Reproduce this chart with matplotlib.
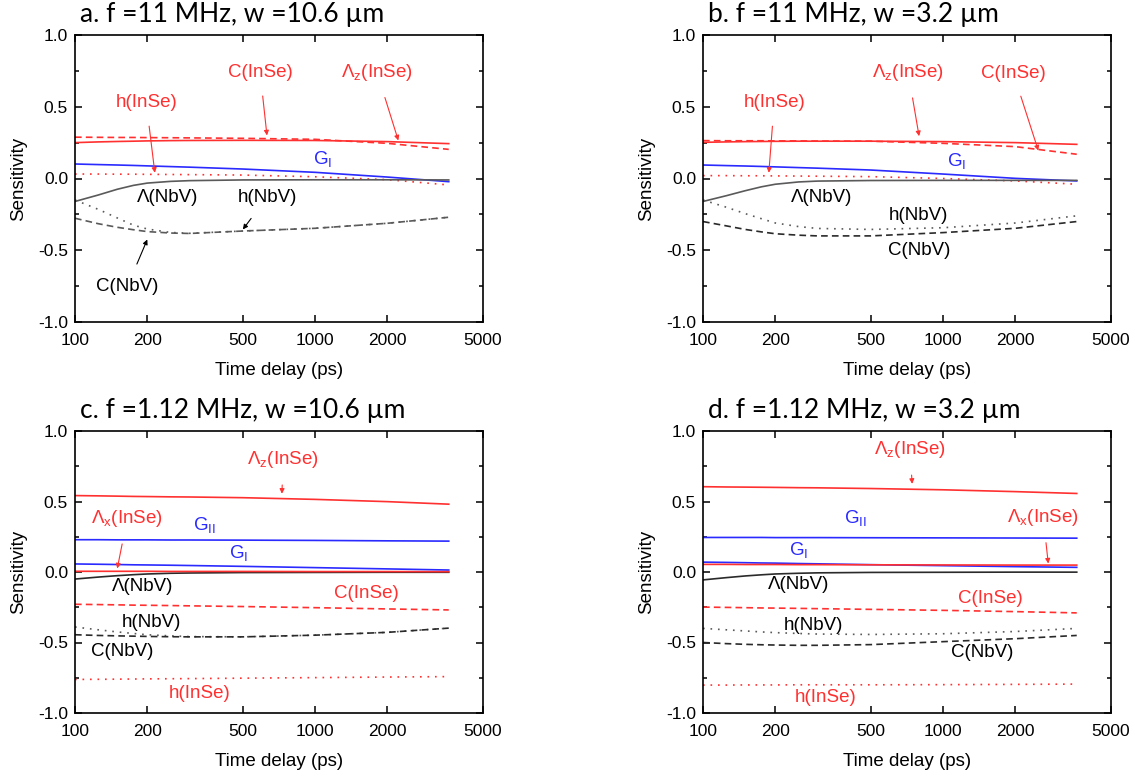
import numpy as np
import matplotlib
matplotlib.use('Agg')
import matplotlib.pyplot as plt
from matplotlib.ticker import FixedLocator, FixedFormatter, MultipleLocator, NullLocator, FormatStrFormatter

plt.rcParams['font.family'] = ['Liberation Sans', 'DejaVu Sans']
plt.rcParams['mathtext.fontset'] = 'custom'
plt.rcParams['mathtext.rm'] = 'Liberation Sans'

# time delay (ps) sample points shared by all curves
t = [100, 125, 150, 175, 200, 250, 300, 500, 1000, 2000, 3600]

# panel a: f = 11 MHz, w = 10.6 um
a_Lz_InSe = [0.25, 0.255, 0.258, 0.26, 0.262, 0.264, 0.265, 0.266, 0.265, 0.257, 0.243]
a_C_InSe = [0.288, 0.287, 0.286, 0.286, 0.285, 0.284, 0.283, 0.28, 0.273, 0.245, 0.203]
a_h_InSe = [0.031, 0.031, 0.03, 0.03, 0.029, 0.028, 0.027, 0.024, 0.012, -0.008, -0.045]
a_G_perp = [0.101, 0.097, 0.094, 0.091, 0.088, 0.083, 0.079, 0.066, 0.043, 0.01, -0.022]
a_L_NbV = [-0.16, -0.115, -0.075, -0.048, -0.032, -0.02, -0.015, -0.01, -0.009, -0.009, -0.01]
a_h_NbV = [-0.15, -0.215, -0.275, -0.325, -0.352, -0.376, -0.382, -0.366, -0.347, -0.312, -0.27]
a_C_NbV = [-0.277, -0.315, -0.34, -0.357, -0.37, -0.38, -0.383, -0.366, -0.347, -0.312, -0.27]

# panel b: f = 11 MHz, w = 3.2 um
b_Lz_InSe = [0.252, 0.255, 0.257, 0.258, 0.259, 0.26, 0.26, 0.26, 0.257, 0.25, 0.238]
b_C_InSe = [0.264, 0.263, 0.263, 0.263, 0.262, 0.262, 0.261, 0.26, 0.245, 0.222, 0.169]
b_h_InSe = [0.02, 0.02, 0.019, 0.019, 0.018, 0.017, 0.016, 0.013, 0.0, -0.017, -0.04]
b_G_perp = [0.094, 0.09, 0.087, 0.084, 0.081, 0.076, 0.072, 0.059, 0.031, 0.001, -0.017]
b_L_NbV = [-0.16, -0.12, -0.085, -0.058, -0.04, -0.024, -0.018, -0.014, -0.013, -0.013, -0.013]
b_h_NbV = [-0.15, -0.2, -0.245, -0.28, -0.31, -0.335, -0.348, -0.355, -0.343, -0.31, -0.26]
b_C_NbV = [-0.30, -0.33, -0.355, -0.372, -0.385, -0.395, -0.40, -0.40, -0.377, -0.347, -0.30]

# panel c: f = 1.12 MHz, w = 10.6 um
c_Lz_InSe = [0.542, 0.54, 0.538, 0.536, 0.535, 0.533, 0.532, 0.527, 0.515, 0.499, 0.481]
c_G_par = [0.229, 0.229, 0.228, 0.228, 0.228, 0.227, 0.227, 0.226, 0.224, 0.221, 0.219]
c_G_perp = [0.057, 0.055, 0.053, 0.051, 0.05, 0.048, 0.046, 0.04, 0.031, 0.022, 0.014]
c_Lx_InSe = [0.005, 0.005, 0.005, 0.005, 0.005, 0.004, 0.004, 0.004, 0.003, 0.003, 0.002]
c_L_NbV = [-0.05, -0.036, -0.026, -0.019, -0.014, -0.009, -0.007, -0.004, -0.003, -0.002, -0.002]
c_C_InSe = [-0.229, -0.231, -0.233, -0.235, -0.236, -0.238, -0.24, -0.245, -0.253, -0.262, -0.269]
c_h_NbV = [-0.39, -0.41, -0.425, -0.436, -0.445, -0.453, -0.458, -0.46, -0.448, -0.428, -0.398]
c_C_NbV = [-0.445, -0.45, -0.453, -0.455, -0.457, -0.459, -0.46, -0.46, -0.448, -0.428, -0.398]
c_h_InSe = [-0.762, -0.761, -0.76, -0.759, -0.758, -0.757, -0.756, -0.753, -0.749, -0.745, -0.742]

# panel d: f = 1.12 MHz, w = 3.2 um
d_Lz_InSe = [0.605, 0.603, 0.602, 0.601, 0.6, 0.598, 0.597, 0.592, 0.583, 0.57, 0.557]
d_G_par = [0.245, 0.245, 0.245, 0.245, 0.244, 0.244, 0.244, 0.243, 0.242, 0.241, 0.24]
d_G_perp = [0.07, 0.068, 0.066, 0.064, 0.063, 0.06, 0.058, 0.052, 0.045, 0.038, 0.033]
d_Lx_InSe = [0.054, 0.054, 0.053, 0.053, 0.053, 0.052, 0.052, 0.051, 0.05, 0.049, 0.049]
d_L_NbV = [-0.056, -0.04, -0.028, -0.02, -0.014, -0.009, -0.006, -0.003, -0.002, -0.001, -0.001]
d_C_InSe = [-0.249, -0.251, -0.253, -0.255, -0.256, -0.258, -0.26, -0.265, -0.272, -0.281, -0.29]
d_h_NbV = [-0.4, -0.41, -0.418, -0.425, -0.43, -0.436, -0.44, -0.443, -0.438, -0.422, -0.4]
d_C_NbV = [-0.5, -0.508, -0.513, -0.516, -0.518, -0.52, -0.52, -0.515, -0.494, -0.473, -0.45]
d_h_InSe = [-0.802, -0.802, -0.801, -0.801, -0.801, -0.8, -0.8, -0.8, -0.799, -0.797, -0.795]

titles = ['a. f =11 MHz, w =10.6 \u00b5m', 'b. f =11 MHz, w =3.2 \u00b5m',
          'c. f =1.12 MHz, w =10.6 \u00b5m', 'd. f =1.12 MHz, w =3.2 \u00b5m']
xticks = [100, 200, 500, 1000, 2000, 5000]

RED = '#ff3030'
BLUE = '#2a2aff'
GREY = '#5a5a5a'
DARK = '#2a2a2a'

LZ = '\u039b$_{\\mathregular{z}}$(InSe)'
LX = '\u039b$_{\\mathregular{x}}$(InSe)'
GI = 'G$_{\\mathregular{I}}$'
GII = 'G$_{\\mathregular{II}}$'

dashed = (0, (4, 2.5))
dotted = (0, (1, 3.5))

# (series, colour, linestyle)
lines = [
    [(a_Lz_InSe, RED, '-'), (a_C_InSe, RED, dashed), (a_h_InSe, RED, dotted),
     (a_G_perp, BLUE, '-'), (a_L_NbV, GREY, '-'), (a_h_NbV, GREY, dotted), (a_C_NbV, GREY, dashed)],
    [(b_Lz_InSe, RED, '-'), (b_C_InSe, RED, dashed), (b_h_InSe, RED, dotted),
     (b_G_perp, BLUE, '-'), (b_L_NbV, GREY, '-'), (b_h_NbV, GREY, dotted), (b_C_NbV, DARK, dashed)],
    [(c_Lz_InSe, RED, '-'), (c_G_par, BLUE, '-'), (c_G_perp, BLUE, '-'), (c_L_NbV, DARK, '-'),
     (c_Lx_InSe, RED, '-'), (c_C_InSe, RED, dashed), (c_h_NbV, GREY, dotted),
     (c_C_NbV, DARK, dashed), (c_h_InSe, RED, dotted)],
    [(d_Lz_InSe, RED, '-'), (d_G_par, BLUE, '-'), (d_G_perp, BLUE, '-'), (d_L_NbV, DARK, '-'),
     (d_Lx_InSe, RED, '-'), (d_C_InSe, RED, dashed), (d_h_NbV, GREY, dotted),
     (d_C_NbV, DARK, dashed), (d_h_InSe, RED, dotted)],
]

# (text, colour, text position, arrow tip or None)
labels = [
    [('C(InSe)', RED, (590, 0.74), (630, 0.30)),
     (LZ, RED, (1810, 0.74), (2220, 0.265)),
     ('h(InSe)', RED, (198, 0.53), (215, 0.04)),
     (GI, BLUE, (1070, 0.13), None),
     ('\u039b(NbV)', 'k', (244, -0.13), None),
     ('h(NbV)', 'k', (631, -0.13), (500, -0.355)),
     ('C(NbV)', 'k', (165, -0.755), (200, -0.425))],
    [(LZ, RED, (715, 0.74), (794, 0.295)),
     ('C(InSe)', RED, (1960, 0.735), (2490, 0.195)),
     ('h(InSe)', RED, (198, 0.53), (188, 0.04)),
     (GI, BLUE, (1143, 0.115), None),
     ('\u039b(NbV)', 'k', (313, -0.13), None),
     ('h(NbV)', 'k', (787, -0.255), None),
     ('C(NbV)', 'k', (794, -0.5), None)],
    [(LZ, RED, (736, 0.80), (727, 0.555)),
     (LX, RED, (165, 0.38), (150, 0.025)),
     (GII, BLUE, (345, 0.33), None),
     (GI, BLUE, (478, 0.13), None),
     ('\u039b(NbV)', 'k', (192, -0.10), None),
     ('C(InSe)', RED, (1630, -0.155), None),
     ('h(NbV)', 'k', (209, -0.36), None),
     ('C(NbV)', 'k', (157, -0.565), None),
     ('h(InSe)', RED, (329, -0.86), None)],
    [(LZ, RED, (727, 0.87), (743, 0.625)),
     (LX, RED, (2610, 0.39), (2740, 0.06)),
     (GII, BLUE, (430, 0.375), None),
     (GI, BLUE, (249, 0.15), None),
     ('\u039b(NbV)', 'k', (249, -0.09), None),
     ('C(InSe)', RED, (1570, -0.19), None),
     ('h(NbV)', 'k', (287, -0.38), None),
     ('C(NbV)', 'k', (1454, -0.57), None),
     ('h(InSe)', RED, (325, -0.89), None)],
]

fig = plt.figure(figsize=(11.35, 7.78), dpi=100)
W, H = 1135.0, 778.0
boxes = [(75, 35, 408, 287), (703, 35, 408, 287), (75, 431, 408, 282), (703, 431, 408, 282)]

for i, (x0, y0, w, h) in enumerate(boxes):
    ax = fig.add_axes([x0 / W, 1 - (y0 + h) / H, w / W, h / H])
    for ys, col, ls in lines[i]:
        ax.plot(t, ys, color=col, linestyle=ls, lw=1.2)
    for txt, col, xy_text, tip in labels[i]:
        if tip is None:
            ax.text(xy_text[0], xy_text[1], txt, color=col, fontsize=13.5,
                    ha='center', va='center')
        else:
            ax.annotate(txt, xy=tip, xytext=xy_text, color=col, fontsize=13.5,
                        ha='center', va='center',
                        arrowprops=dict(arrowstyle='-|>', color=col, lw=0.8,
                                        mutation_scale=7, shrinkA=9, shrinkB=0))
    ax.set_xscale('log')
    ax.set_xlim(100, 5000)
    ax.set_ylim(-1.0, 1.0)
    ax.xaxis.set_major_locator(FixedLocator(xticks))
    ax.xaxis.set_major_formatter(FixedFormatter([str(v) for v in xticks]))
    ax.xaxis.set_minor_locator(NullLocator())
    ax.yaxis.set_major_locator(MultipleLocator(0.5))
    ax.yaxis.set_minor_locator(MultipleLocator(0.25))
    ax.yaxis.set_major_formatter(FormatStrFormatter('%.1f'))
    ax.tick_params(which='both', direction='in', top=True, right=True, labelsize=12.5, width=1.1)
    ax.tick_params(which='major', length=5)
    ax.tick_params(which='minor', length=3)
    ax.tick_params(axis='x', pad=8)
    ax.tick_params(axis='y', pad=5)
    for s in ax.spines.values():
        s.set_linewidth(1.2)
    ax.set_xlabel('Time delay (ps)', fontsize=13.5, labelpad=10)
    ax.set_ylabel('Sensitivity', fontsize=13.5, labelpad=8)
    ax.text(0.012, 1.045, titles[i], transform=ax.transAxes, fontsize=19,
            family=['Lato', 'DejaVu Sans'], ha='left', va='baseline')

fig.savefig('out.png', dpi=100)
